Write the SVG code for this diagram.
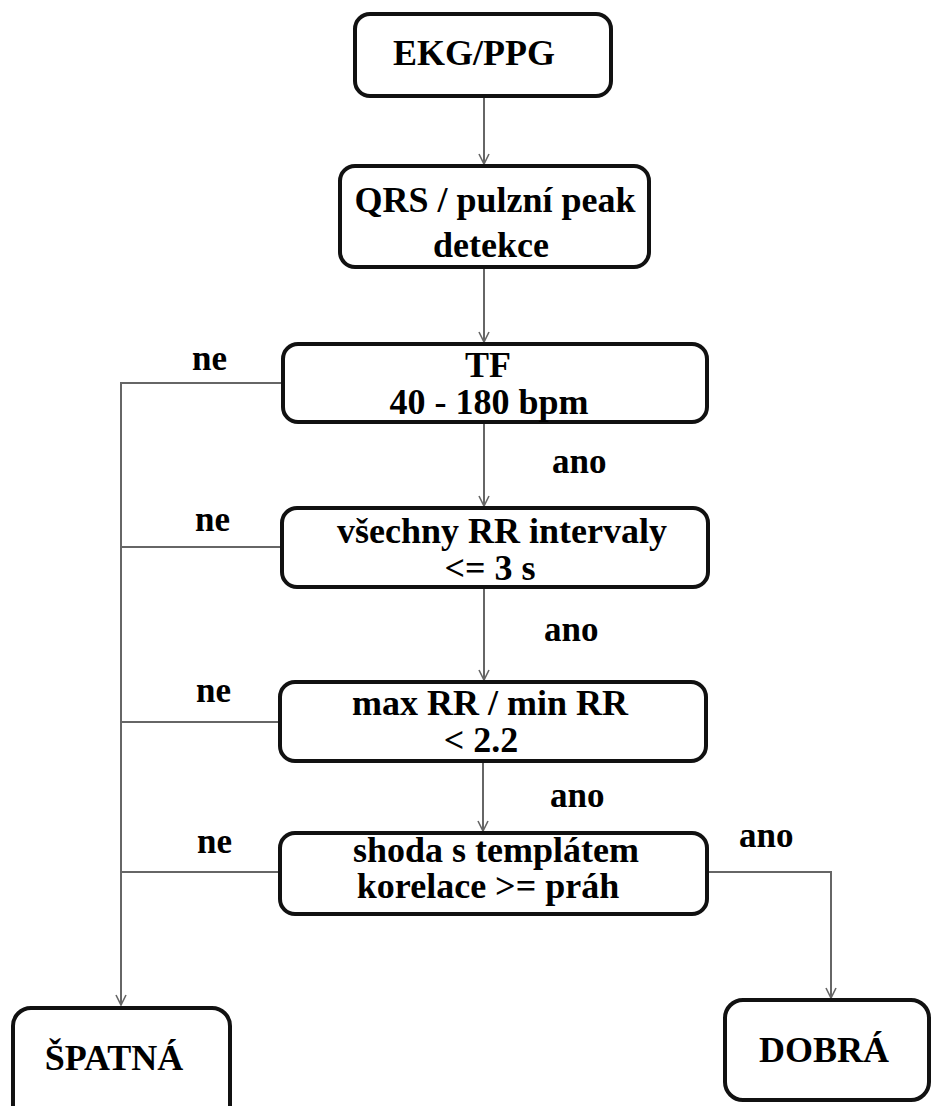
<svg xmlns="http://www.w3.org/2000/svg" width="931" height="1106" viewBox="0 0 931 1106">
  <style>
    .box { fill: #ffffff; stroke: #111111; stroke-width: 4; }
    .t { font-family: "Liberation Serif", "Times New Roman", serif; font-weight: bold; font-size: 36px; fill: #000000; text-anchor: middle; }
    .lbl { font-family: "Liberation Serif", "Times New Roman", serif; font-weight: bold; font-size: 35px; fill: #000000; }
    .edge { fill: none; stroke: #666666; stroke-width: 2; }
  </style>
  <defs>
    <marker id="arrow" viewBox="0 0 12 12" refX="11" refY="6" markerWidth="12" markerHeight="12" markerUnits="userSpaceOnUse" orient="auto">
      <path d="M1,1 L11,6 L1,11" fill="none" stroke="#666666" stroke-width="1.6"/>
    </marker>
  </defs>
  <rect width="931" height="1106" fill="#ffffff"/>

  <g id="connectors">
    <line class="edge" x1="484" y1="97" x2="484" y2="164" marker-end="url(#arrow)"/>
    <line class="edge" x1="484" y1="268" x2="484" y2="342" marker-end="url(#arrow)"/>
    <line class="edge" x1="484" y1="423" x2="484" y2="506" marker-end="url(#arrow)"/>
    <line class="edge" x1="484" y1="588" x2="484" y2="680" marker-end="url(#arrow)"/>
    <line class="edge" x1="483" y1="762" x2="483" y2="831" marker-end="url(#arrow)"/>
    <polyline class="edge" points="283,383 121,383 121,1005" marker-end="url(#arrow)"/>
    <line class="edge" x1="282" y1="547" x2="121" y2="547"/>
    <line class="edge" x1="280" y1="722" x2="121" y2="722"/>
    <line class="edge" x1="280" y1="872" x2="121" y2="872"/>
    <polyline class="edge" points="707,872 831,872 831,998" marker-end="url(#arrow)"/>
    <text class="lbl" x="192" y="370">ne</text>
    <text class="lbl" x="195" y="531">ne</text>
    <text class="lbl" x="196" y="702">ne</text>
    <text class="lbl" x="197" y="853">ne</text>
    <text class="lbl" x="552" y="473">ano</text>
    <text class="lbl" x="544" y="641">ano</text>
    <text class="lbl" x="550" y="807">ano</text>
    <text class="lbl" x="739" y="847">ano</text>
  </g>

  <g id="node-ekg">
    <rect class="box" x="355" y="14" width="256" height="82" rx="15"/>
    <text class="t" x="474" y="65">EKG/PPG</text>
  </g>

  <g id="node-qrs">
    <rect class="box" x="340" y="166" width="309" height="101" rx="15"/>
    <text class="t" x="495" y="212">QRS / pulzní peak</text>
    <text class="t" x="491" y="257">detekce</text>
  </g>

  <g id="node-tf">
    <rect class="box" x="283" y="344" width="424" height="78" rx="15"/>
    <text class="t" x="488" y="377">TF</text>
    <text class="t" x="489" y="414">40 - 180 bpm</text>
  </g>

  <g id="node-rr">
    <rect class="box" x="282" y="508" width="426" height="79" rx="15"/>
    <text class="t" x="502" y="543">všechny RR intervaly</text>
    <text class="t" x="490" y="580">&lt;= 3 s</text>
  </g>

  <g id="node-ratio">
    <rect class="box" x="280" y="682" width="426" height="79" rx="15"/>
    <text class="t" x="490" y="715">max RR / min RR</text>
    <text class="t" x="481" y="752">&lt; 2.2</text>
  </g>

  <g id="node-template">
    <rect class="box" x="280" y="833" width="427" height="81" rx="15"/>
    <text class="t" x="496" y="862">shoda s templátem</text>
    <text class="t" x="488" y="898">korelace &gt;= práh</text>
  </g>

  <g id="node-bad">
    <rect class="box" x="13" y="1008" width="217" height="120" rx="18"/>
    <text class="t" x="114" y="1070">ŠPATNÁ</text>
  </g>

  <g id="node-good">
    <rect class="box" x="725" y="1000" width="204" height="100" rx="18"/>
    <text class="t" x="824" y="1062">DOBRÁ</text>
  </g>
</svg>
